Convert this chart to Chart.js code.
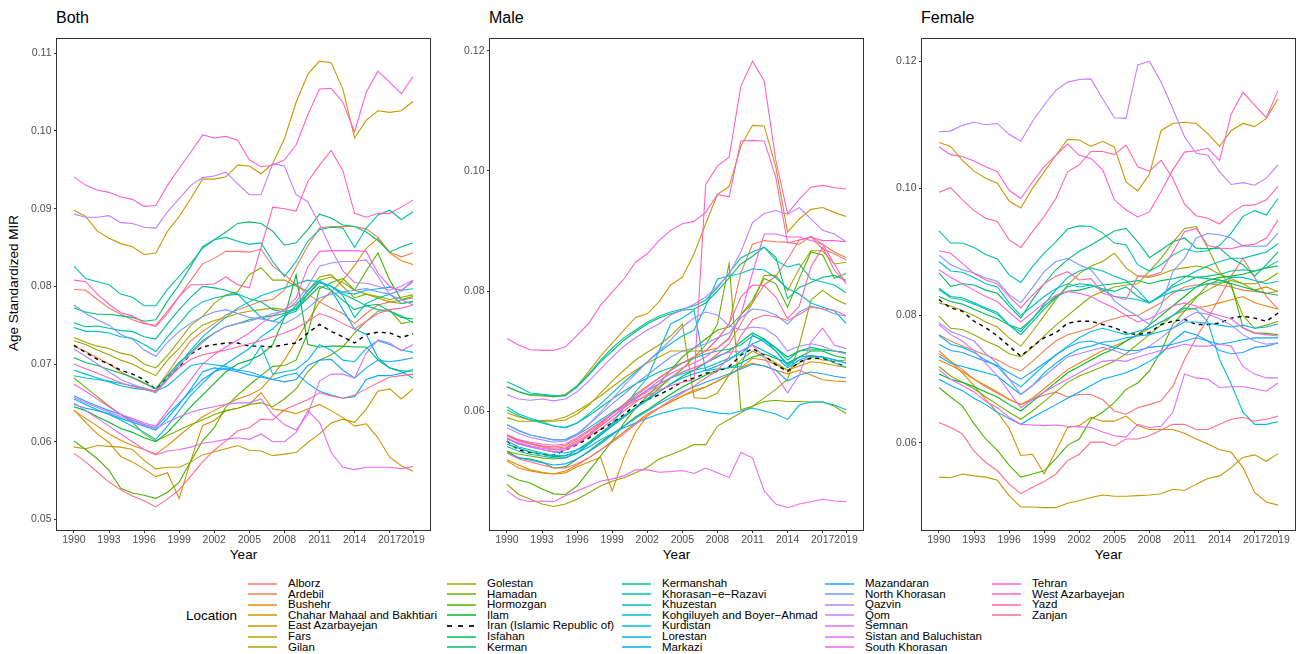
<!DOCTYPE html>
<html>
<head>
<meta charset="utf-8">
<script src="https://cdn.jsdelivr.net/npm/chart.js@4.4.1/dist/chart.umd.min.js"></script>
<style>
  body { margin: 0; background: #fff; width: 1306px; height: 654px; position: relative; overflow: hidden;
         font-family: "Liberation Sans", Arial, Helvetica, sans-serif; color: #000; }
  canvas.panel { position: absolute; top: 30px; }
  .ptitle { position: absolute; top: 9px; font-size: 16px; line-height: 18px; }
  .xlab { position: absolute; top: 547px; width: 373px; text-align: center; font-size: 13.5px; line-height: 16px; }
  .ylab { position: absolute; left: -136px; top: 275px; width: 300px; text-align: center; font-size: 13.5px;
          line-height: 16px; transform: rotate(-90deg); }
  .lg-title { position: absolute; left: 186px; top: 607px; font-size: 13.5px; line-height: 17px; }
  .lg-key { position: absolute; width: 29px; height: 2px; opacity: 0.75; }
  .lg-text { position: absolute; font-size: 11.5px; line-height: 13px; white-space: nowrap; }
</style>
</head>
<body>
<div class="ptitle" style="left:56px">Both</div>
<div class="ptitle" style="left:489px">Male</div>
<div class="ptitle" style="left:921px">Female</div>
<div class="ylab">Age Standardized MIR</div>
<div class="xlab" style="left:57px">Year</div>
<div class="xlab" style="left:490px">Year</div>
<div class="xlab" style="left:922px">Year</div>
<canvas id="bothChart" class="panel" width="428" height="530" style="left:7px"></canvas>
<canvas id="maleChart" class="panel" width="428" height="530" style="left:440px"></canvas>
<canvas id="femaleChart" class="panel" width="428" height="530" style="left:872px"></canvas>
<div class="lg-title">Location</div>
<div id="legend"></div>

<script>
// Years and tick marks
const years = [1990,1991,1992,1993,1994,1995,1996,1997,1998,1999,2000,2001,2002,2003,2004,
               2005,2006,2007,2008,2009,2010,2011,2012,2013,2014,2015,2016,2017,2018,2019];
const yearTicks = [1990, 1993, 1996, 1999, 2002, 2005, 2008, 2011, 2014, 2017, 2019];
const bothTicks = [0.05, 0.06, 0.07, 0.08, 0.09, 0.10, 0.11];
const maleTicks = [0.06, 0.08, 0.10, 0.12];
const femaleTicks = [0.06, 0.08, 0.10, 0.12];

// Locations in legend order (Iran is the national line)
const locations = [
    'Alborz', 'Ardebil', 'Bushehr', 'Chahar Mahaal and Bakhtiari', 'East Azarbayejan', 'Fars', 'Gilan',
    'Golestan', 'Hamadan', 'Hormozgan', 'Ilam', 'Iran (Islamic Republic of)', 'Isfahan', 'Kerman',
    'Kermanshah', 'Khorasan\u2212e\u2212Razavi', 'Khuzestan', 'Kohgiluyeh and Boyer\u2212Ahmad', 'Kurdistan',
    'Lorestan', 'Markazi', 'Mazandaran', 'North Khorasan', 'Qazvin', 'Qom', 'Semnan',
    'Sistan and Baluchistan', 'South Khorasan', 'Tehran', 'West Azarbayejan', 'Yazd', 'Zanjan'
];
const nationalName = 'Iran (Islamic Republic of)';

// Both sexes, one row per location (same order as locations)
const bothRates = [
    [0.0796,0.0795,0.0783,0.0772,0.0764,0.0757,0.0752,0.0750,0.0768,0.0787, 0.0808,0.0829,0.0836,0.0845,0.0845,0.0844,0.0848,0.0826,0.0815,0.0802, 0.0790,0.0780,0.0772,0.0765,0.0752,0.0765,0.0776,0.0780,0.0782,0.0785], // Alborz
    [0.0723,0.0716,0.0708,0.0700,0.0690,0.0682,0.0675,0.0668,0.0688,0.0710, 0.0730,0.0742,0.0752,0.0763,0.0770,0.0775,0.0781,0.0783,0.0795,0.0825, 0.0852,0.0875,0.0877,0.0877,0.0877,0.0874,0.0863,0.0844,0.0838,0.0843], // Ardebil
    [0.0640,0.0630,0.0620,0.0610,0.0602,0.0595,0.0590,0.0584,0.0595,0.0608, 0.0620,0.0632,0.0640,0.0648,0.0655,0.0660,0.0668,0.0685,0.0705,0.0730, 0.0755,0.0780,0.0793,0.0808,0.0827,0.0849,0.0862,0.0843,0.0833,0.0828], // Bushehr
    [0.0641,0.0625,0.0610,0.0599,0.0581,0.0574,0.0565,0.0555,0.0560,0.0527, 0.0576,0.0621,0.0627,0.0640,0.0643,0.0648,0.0663,0.0642,0.0640,0.0636, 0.0642,0.0648,0.0640,0.0631,0.0620,0.0623,0.0605,0.0580,0.0569,0.0562], // Chahar Mahaal
    [0.0898,0.0890,0.0871,0.0862,0.0855,0.0851,0.0841,0.0843,0.0871,0.0890, 0.0913,0.0938,0.0938,0.0941,0.0956,0.0955,0.0945,0.0958,0.0990,0.1037, 0.1073,0.1090,0.1088,0.1054,0.0991,0.1014,0.1026,0.1024,0.1026,0.1038], // East Azarbayejan
    [0.0593,0.0591,0.0595,0.0594,0.0593,0.0590,0.0576,0.0565,0.0567,0.0567, 0.0574,0.0583,0.0587,0.0591,0.0595,0.0589,0.0588,0.0582,0.0584,0.0586, 0.0599,0.0610,0.0624,0.0629,0.0625,0.0642,0.0665,0.0668,0.0655,0.0668], // Fars
    [0.0730,0.0725,0.0718,0.0712,0.0705,0.0700,0.0692,0.0685,0.0705,0.0720, 0.0738,0.0750,0.0756,0.0760,0.0765,0.0768,0.0770,0.0772,0.0770,0.0777, 0.0790,0.0808,0.0812,0.0805,0.0795,0.0790,0.0785,0.0780,0.0778,0.0781], // Gilan
    [0.0734,0.0728,0.0723,0.0720,0.0714,0.0711,0.0700,0.0695,0.0711,0.0730, 0.0750,0.0761,0.0778,0.0789,0.0793,0.0815,0.0824,0.0808,0.0808,0.0800, 0.0794,0.0812,0.0815,0.0800,0.0785,0.0790,0.0787,0.0783,0.0786,0.0789], // Golestan
    [0.0682,0.0670,0.0658,0.0646,0.0635,0.0625,0.0610,0.0601,0.0608,0.0615, 0.0622,0.0628,0.0635,0.0640,0.0643,0.0648,0.0650,0.0645,0.0655,0.0668, 0.0690,0.0705,0.0712,0.0722,0.0740,0.0755,0.0768,0.0770,0.0752,0.0755], // Hamadan
    [0.0601,0.0590,0.0578,0.0563,0.0540,0.0534,0.0531,0.0527,0.0535,0.0548, 0.0575,0.0601,0.0618,0.0645,0.0660,0.0673,0.0685,0.0697,0.0698,0.0705, 0.0740,0.0797,0.0805,0.0810,0.0795,0.0820,0.0843,0.0808,0.0783,0.0787], // Hormozgan
    [0.0645,0.0640,0.0632,0.0625,0.0617,0.0612,0.0605,0.0600,0.0612,0.0628, 0.0645,0.0660,0.0675,0.0690,0.0700,0.0705,0.0712,0.0725,0.0760,0.0815, 0.0725,0.0722,0.0723,0.0723,0.0722,0.0722,0.0705,0.0695,0.0691,0.0691], // Ilam
    [0.0724,0.0715,0.0706,0.0700,0.0692,0.0687,0.0680,0.0667,0.0683,0.0696, 0.0713,0.0722,0.0725,0.0727,0.0727,0.0723,0.0723,0.0722,0.0725,0.0727, 0.0740,0.0751,0.0742,0.0735,0.0727,0.0738,0.0741,0.0740,0.0734,0.0739], // Iran
    [0.0708,0.0702,0.0698,0.0693,0.0688,0.0683,0.0676,0.0668,0.0685,0.0702, 0.0715,0.0730,0.0740,0.0748,0.0752,0.0757,0.0760,0.0762,0.0765,0.0770, 0.0785,0.0800,0.0795,0.0782,0.0770,0.0775,0.0777,0.0768,0.0760,0.0758], // Isfahan
    [0.0772,0.0767,0.0764,0.0764,0.0762,0.0760,0.0755,0.0757,0.0781,0.0802, 0.0826,0.0851,0.0860,0.0870,0.0881,0.0883,0.0881,0.0871,0.0853,0.0856, 0.0873,0.0893,0.0888,0.0879,0.0877,0.0870,0.0859,0.0844,0.0851,0.0856], // Kerman
    [0.0753,0.0748,0.0749,0.0746,0.0743,0.0742,0.0735,0.0732,0.0752,0.0770, 0.0786,0.0800,0.0798,0.0795,0.0790,0.0784,0.0780,0.0770,0.0767,0.0772, 0.0790,0.0805,0.0800,0.0790,0.0783,0.0775,0.0770,0.0768,0.0762,0.0753], // Kermanshah
    [0.0826,0.0810,0.0806,0.0802,0.0790,0.0786,0.0775,0.0775,0.0796,0.0813, 0.0830,0.0849,0.0860,0.0863,0.0858,0.0854,0.0856,0.0832,0.0813,0.0832, 0.0858,0.0873,0.0876,0.0875,0.0850,0.0875,0.0892,0.0898,0.0886,0.0896], // Khorasan-e-Razavi
    [0.0747,0.0742,0.0742,0.0740,0.0735,0.0733,0.0725,0.0716,0.0735,0.0752, 0.0770,0.0780,0.0785,0.0788,0.0790,0.0775,0.0760,0.0755,0.0763,0.0768, 0.0790,0.0805,0.0800,0.0788,0.0760,0.0778,0.0785,0.0790,0.0778,0.0780], // Khuzestan
    [0.0692,0.0687,0.0682,0.0677,0.0672,0.0669,0.0667,0.0665,0.0682,0.0700, 0.0718,0.0735,0.0748,0.0760,0.0772,0.0780,0.0788,0.0793,0.0798,0.0803, 0.0808,0.0806,0.0800,0.0792,0.0790,0.0795,0.0797,0.0799,0.0795,0.0797], // Kohgiluyeh
    [0.0685,0.0682,0.0680,0.0678,0.0675,0.0672,0.0669,0.0665,0.0672,0.0685, 0.0698,0.0701,0.0699,0.0697,0.0692,0.0700,0.0723,0.0687,0.0690,0.0693, 0.0705,0.0725,0.0718,0.0705,0.0703,0.0720,0.0730,0.0725,0.0718,0.0715], // Kurdistan
    [0.0655,0.0648,0.0641,0.0635,0.0628,0.0620,0.0612,0.0603,0.0620,0.0640, 0.0660,0.0675,0.0690,0.0700,0.0710,0.0720,0.0735,0.0745,0.0760,0.0775, 0.0795,0.0808,0.0795,0.0770,0.0745,0.0738,0.0708,0.0695,0.0690,0.0682], // Lorestan
    [0.0648,0.0643,0.0640,0.0636,0.0630,0.0625,0.0620,0.0615,0.0630,0.0648, 0.0668,0.0690,0.0695,0.0693,0.0690,0.0686,0.0683,0.0680,0.0685,0.0688, 0.0675,0.0665,0.0660,0.0656,0.0658,0.0680,0.0685,0.0685,0.0688,0.0693], // Markazi
    [0.0659,0.0652,0.0646,0.0640,0.0635,0.0628,0.0622,0.0618,0.0635,0.0650, 0.0665,0.0680,0.0690,0.0695,0.0692,0.0690,0.0685,0.0680,0.0677,0.0680, 0.0698,0.0705,0.0706,0.0692,0.0682,0.0695,0.0705,0.0703,0.0705,0.0708], // Mazandaran
    [0.0776,0.0765,0.0757,0.0750,0.0738,0.0732,0.0718,0.0710,0.0728,0.0742, 0.0753,0.0761,0.0767,0.0770,0.0765,0.0760,0.0758,0.0755,0.0752,0.0760, 0.0772,0.0785,0.0790,0.0793,0.0795,0.0797,0.0793,0.0790,0.0795,0.0806], // North Khorasan
    [0.0719,0.0710,0.0700,0.0690,0.0680,0.0674,0.0668,0.0663,0.0680,0.0698, 0.0713,0.0728,0.0740,0.0748,0.0752,0.0755,0.0760,0.0765,0.0768,0.0780, 0.0800,0.0826,0.0830,0.0832,0.0832,0.0834,0.0813,0.0789,0.0783,0.0776], // Qazvin
    [0.0893,0.0889,0.0889,0.0891,0.0882,0.0881,0.0876,0.0875,0.0896,0.0913, 0.0930,0.0940,0.0942,0.0947,0.0932,0.0918,0.0918,0.0958,0.0955,0.0918, 0.0909,0.0880,0.0848,0.0820,0.0805,0.0804,0.0800,0.0795,0.0800,0.0808], // Qom
    [0.0657,0.0650,0.0644,0.0638,0.0632,0.0627,0.0621,0.0617,0.0625,0.0632, 0.0638,0.0642,0.0645,0.0648,0.0650,0.0650,0.0655,0.0635,0.0622,0.0615, 0.0635,0.0678,0.0687,0.0687,0.0682,0.0714,0.0731,0.0727,0.0717,0.0725], // Semnan
    [0.0650,0.0640,0.0630,0.0620,0.0610,0.0600,0.0590,0.0583,0.0588,0.0590, 0.0593,0.0598,0.0600,0.0603,0.0605,0.0603,0.0610,0.0600,0.0600,0.0612, 0.0640,0.0625,0.0586,0.0567,0.0564,0.0567,0.0567,0.0567,0.0565,0.0568], // Sistan and Baluchistan
    [0.0674,0.0665,0.0655,0.0645,0.0635,0.0630,0.0624,0.0620,0.0640,0.0660, 0.0680,0.0700,0.0712,0.0722,0.0731,0.0740,0.0752,0.0762,0.0770,0.0785, 0.0825,0.0845,0.0846,0.0846,0.0846,0.0845,0.0817,0.0800,0.0794,0.0808], // South Khorasan
    [0.0941,0.0930,0.0924,0.0921,0.0915,0.0912,0.0903,0.0904,0.0930,0.0952, 0.0973,0.0995,0.0991,0.0993,0.0988,0.0963,0.0954,0.0956,0.0963,0.0982, 0.1021,0.1054,0.1055,0.1037,0.0999,0.1050,0.1077,0.1063,0.1048,0.1070], // Tehran
    [0.0808,0.0806,0.0790,0.0777,0.0766,0.0762,0.0753,0.0748,0.0765,0.0787, 0.0802,0.0802,0.0803,0.0812,0.0802,0.0798,0.0850,0.0902,0.0900,0.0897, 0.0935,0.0956,0.0975,0.0949,0.0894,0.0889,0.0894,0.0894,0.0902,0.0911], // West Azarbayejan
    [0.0700,0.0694,0.0688,0.0682,0.0676,0.0671,0.0668,0.0665,0.0680,0.0695, 0.0706,0.0712,0.0715,0.0718,0.0722,0.0726,0.0730,0.0735,0.0740,0.0746, 0.0755,0.0765,0.0760,0.0752,0.0745,0.0755,0.0765,0.0770,0.0772,0.0776], // Yazd
    [0.0585,0.0574,0.0561,0.0548,0.0538,0.0530,0.0524,0.0516,0.0526,0.0538, 0.0556,0.0574,0.0589,0.0601,0.0614,0.0618,0.0629,0.0628,0.0641,0.0648, 0.0654,0.0663,0.0659,0.0656,0.0660,0.0668,0.0676,0.0683,0.0685,0.0687]  // Zanjan
];

// Male
const maleRates = [
    [0.0559,0.0550,0.0545,0.0540,0.0536,0.0538,0.0547,0.0558,0.0570,0.0585, 0.0600,0.0615,0.0628,0.0640,0.0655,0.0665,0.0672,0.0680,0.0695,0.0712, 0.0745,0.0780,0.0810,0.0825,0.0853,0.0885,0.0890,0.0870,0.0862,0.0852], // Alborz
    [0.0561,0.0552,0.0546,0.0541,0.0538,0.0540,0.0550,0.0562,0.0578,0.0595, 0.0612,0.0628,0.0642,0.0655,0.0668,0.0680,0.0690,0.0700,0.0720,0.0745, 0.0830,0.0878,0.0884,0.0882,0.0881,0.0878,0.0891,0.0878,0.0865,0.0856], // Ardebil
    [0.0517,0.0505,0.0500,0.0497,0.0495,0.0500,0.0510,0.0522,0.0535,0.0550, 0.0565,0.0580,0.0595,0.0605,0.0615,0.0625,0.0635,0.0640,0.0650,0.0660, 0.0672,0.0680,0.0675,0.0668,0.0662,0.0668,0.0660,0.0652,0.0650,0.0649], // Bushehr
    [0.0519,0.0510,0.0502,0.0498,0.0495,0.0497,0.0507,0.0515,0.0523,0.0467, 0.0522,0.0565,0.0592,0.0605,0.0615,0.0625,0.0632,0.0640,0.0650,0.0660, 0.0672,0.0688,0.0685,0.0678,0.0668,0.0675,0.0682,0.0680,0.0676,0.0673], // Chahar Mahaal
    [0.0640,0.0632,0.0626,0.0625,0.0624,0.0628,0.0642,0.0666,0.0691,0.0713, 0.0735,0.0756,0.0762,0.0782,0.0810,0.0823,0.0862,0.0912,0.0961,0.0974, 0.1041,0.1076,0.1075,0.1006,0.0898,0.0920,0.0936,0.0939,0.0931,0.0924], // East Azarbayejan
    [0.0597,0.0590,0.0585,0.0584,0.0585,0.0590,0.0600,0.0612,0.0625,0.0640, 0.0655,0.0668,0.0680,0.0690,0.0700,0.0700,0.0700,0.0700,0.0705,0.0722, 0.0760,0.0780,0.0826,0.0826,0.0801,0.0837,0.0867,0.0867,0.0845,0.0848], // Fars
    [0.0589,0.0583,0.0583,0.0583,0.0583,0.0585,0.0595,0.0610,0.0630,0.0650, 0.0668,0.0685,0.0698,0.0710,0.0725,0.0745,0.0622,0.0621,0.0630,0.0660, 0.0685,0.0700,0.0690,0.0680,0.0668,0.0680,0.0690,0.0685,0.0683,0.0685], // Gilan
    [0.0478,0.0461,0.0453,0.0445,0.0441,0.0445,0.0453,0.0464,0.0475,0.0483, 0.0489,0.0497,0.0506,0.0520,0.0527,0.0535,0.0544,0.0544,0.0575,0.0586, 0.0597,0.0608,0.0622,0.0636,0.0653,0.0710,0.0785,0.0801,0.0787,0.0778], // Golestan
    [0.0533,0.0528,0.0525,0.0522,0.0520,0.0522,0.0530,0.0545,0.0560,0.0575, 0.0590,0.0605,0.0620,0.0638,0.0655,0.0670,0.0690,0.0710,0.0745,0.0846, 0.0602,0.0608,0.0616,0.0618,0.0616,0.0616,0.0615,0.0615,0.0608,0.0596], // Hamadan
    [0.0494,0.0485,0.0480,0.0470,0.0462,0.0461,0.0475,0.0500,0.0525,0.0550, 0.0580,0.0605,0.0625,0.0645,0.0668,0.0690,0.0705,0.0720,0.0735,0.0740, 0.0760,0.0785,0.0821,0.0812,0.0773,0.0821,0.0865,0.0860,0.0821,0.0829], // Hormozgan
    [0.0533,0.0522,0.0520,0.0515,0.0505,0.0507,0.0520,0.0533,0.0548,0.0562, 0.0575,0.0590,0.0602,0.0615,0.0628,0.0640,0.0650,0.0660,0.0668,0.0672, 0.0680,0.0690,0.0695,0.0688,0.0680,0.0690,0.0700,0.0700,0.0692,0.0688], // Ilam
    [0.0550,0.0535,0.0531,0.0528,0.0526,0.0535,0.0544,0.0555,0.0569,0.0580, 0.0594,0.0610,0.0619,0.0627,0.0637,0.0649,0.0655,0.0663,0.0666,0.0674, 0.0693,0.0704,0.0693,0.0677,0.0666,0.0682,0.0688,0.0688,0.0681,0.0674], // Iran
    [0.0545,0.0538,0.0532,0.0528,0.0524,0.0525,0.0535,0.0548,0.0563,0.0578, 0.0592,0.0605,0.0618,0.0632,0.0645,0.0658,0.0668,0.0680,0.0690,0.0700, 0.0715,0.0730,0.0720,0.0705,0.0690,0.0700,0.0706,0.0702,0.0700,0.0697], // Isfahan
    [0.0641,0.0632,0.0627,0.0627,0.0624,0.0626,0.0640,0.0660,0.0682,0.0700, 0.0718,0.0732,0.0745,0.0755,0.0762,0.0768,0.0770,0.0780,0.0800,0.0822, 0.0845,0.0858,0.0873,0.0856,0.0787,0.0806,0.0814,0.0823,0.0826,0.0818], // Kerman
    [0.0602,0.0592,0.0585,0.0580,0.0575,0.0573,0.0580,0.0592,0.0606,0.0620, 0.0633,0.0645,0.0655,0.0665,0.0672,0.0680,0.0688,0.0695,0.0700,0.0703, 0.0710,0.0725,0.0718,0.0705,0.0685,0.0700,0.0702,0.0702,0.0700,0.0697], // Kermanshah
    [0.0649,0.0640,0.0630,0.0628,0.0626,0.0625,0.0642,0.0662,0.0685,0.0705, 0.0722,0.0735,0.0748,0.0758,0.0765,0.0770,0.0775,0.0785,0.0805,0.0830, 0.0855,0.0865,0.0873,0.0851,0.0840,0.0845,0.0820,0.0815,0.0810,0.0797], // Khorasan-e-Razavi
    [0.0577,0.0567,0.0560,0.0556,0.0552,0.0552,0.0560,0.0572,0.0585,0.0598, 0.0610,0.0622,0.0635,0.0645,0.0655,0.0662,0.0668,0.0672,0.0680,0.0688, 0.0695,0.0712,0.0720,0.0700,0.0675,0.0690,0.0692,0.0690,0.0680,0.0673], // Khuzestan
    [0.0607,0.0595,0.0588,0.0582,0.0575,0.0572,0.0580,0.0595,0.0612,0.0630, 0.0648,0.0665,0.0682,0.0698,0.0712,0.0725,0.0735,0.0775,0.0820,0.0825, 0.0829,0.0837,0.0835,0.0822,0.0804,0.0795,0.0780,0.0773,0.0767,0.0746], // Kohgiluyeh
    [0.0541,0.0533,0.0528,0.0525,0.0522,0.0522,0.0530,0.0545,0.0560,0.0580, 0.0605,0.0632,0.0655,0.0700,0.0745,0.0755,0.0768,0.0667,0.0670,0.0672, 0.0674,0.0727,0.0715,0.0700,0.0678,0.0690,0.0692,0.0690,0.0686,0.0680], // Kurdistan
    [0.0550,0.0540,0.0535,0.0530,0.0526,0.0526,0.0530,0.0540,0.0552,0.0562, 0.0572,0.0580,0.0588,0.0595,0.0600,0.0605,0.0605,0.0600,0.0597,0.0595, 0.0600,0.0605,0.0600,0.0595,0.0586,0.0610,0.0615,0.0615,0.0610,0.0602], // Lorestan
    [0.0555,0.0545,0.0540,0.0536,0.0532,0.0530,0.0535,0.0545,0.0560,0.0575, 0.0590,0.0605,0.0620,0.0632,0.0645,0.0655,0.0662,0.0668,0.0675,0.0685, 0.0700,0.0710,0.0700,0.0690,0.0672,0.0685,0.0692,0.0690,0.0685,0.0680], // Markazi
    [0.0530,0.0522,0.0518,0.0514,0.0510,0.0512,0.0520,0.0532,0.0545,0.0560, 0.0575,0.0588,0.0600,0.0612,0.0622,0.0632,0.0640,0.0648,0.0655,0.0662, 0.0670,0.0678,0.0675,0.0668,0.0650,0.0660,0.0665,0.0662,0.0658,0.0655], // Mazandaran
    [0.0577,0.0568,0.0560,0.0556,0.0552,0.0553,0.0562,0.0578,0.0595,0.0612, 0.0628,0.0645,0.0660,0.0675,0.0690,0.0700,0.0705,0.0712,0.0722,0.0730, 0.0755,0.0770,0.0768,0.0760,0.0745,0.0765,0.0775,0.0770,0.0762,0.0758], // North Khorasan
    [0.0572,0.0563,0.0556,0.0552,0.0548,0.0550,0.0560,0.0578,0.0598,0.0620, 0.0642,0.0662,0.0682,0.0700,0.0718,0.0740,0.0755,0.0765,0.0760,0.0742, 0.0735,0.0740,0.0738,0.0725,0.0700,0.0708,0.0712,0.0708,0.0700,0.0695], // Qazvin
    [0.0627,0.0620,0.0618,0.0620,0.0617,0.0620,0.0632,0.0650,0.0670,0.0690, 0.0708,0.0722,0.0735,0.0745,0.0760,0.0768,0.0778,0.0790,0.0808,0.0828, 0.0865,0.0914,0.0929,0.0934,0.0928,0.0939,0.0920,0.0901,0.0895,0.0882], // Qom
    [0.0554,0.0547,0.0542,0.0538,0.0535,0.0537,0.0547,0.0560,0.0575,0.0590, 0.0605,0.0620,0.0632,0.0645,0.0656,0.0665,0.0672,0.0680,0.0692,0.0698, 0.0700,0.0710,0.0690,0.0660,0.0630,0.0660,0.0715,0.0738,0.0710,0.0704], // Semnan
    [0.0467,0.0453,0.0449,0.0450,0.0449,0.0459,0.0467,0.0475,0.0483,0.0487, 0.0492,0.0502,0.0502,0.0498,0.0499,0.0501,0.0496,0.0505,0.0497,0.0489, 0.0531,0.0522,0.0467,0.0445,0.0439,0.0445,0.0449,0.0453,0.0450,0.0449], // Sistan and Baluchistan
    [0.0554,0.0545,0.0540,0.0536,0.0532,0.0535,0.0545,0.0560,0.0575,0.0590, 0.0605,0.0620,0.0635,0.0650,0.0662,0.0672,0.0680,0.0690,0.0705,0.0720, 0.0760,0.0830,0.0895,0.0895,0.0890,0.0890,0.0884,0.0878,0.0845,0.0812], // South Khorasan
    [0.0721,0.0710,0.0702,0.0701,0.0701,0.0707,0.0726,0.0746,0.0776,0.0798, 0.0820,0.0848,0.0862,0.0884,0.0901,0.0912,0.0916,0.0931,0.0961,0.0957, 0.1050,0.1051,0.1050,0.0989,0.0880,0.0885,0.0890,0.0884,0.0884,0.0882], // Tehran
    [0.0559,0.0552,0.0548,0.0545,0.0543,0.0545,0.0556,0.0568,0.0582,0.0595, 0.0607,0.0617,0.0625,0.0635,0.0642,0.0648,0.0652,0.0978,0.1008,0.1023, 0.1141,0.1183,0.1150,0.1017,0.0929,0.0953,0.0973,0.0976,0.0972,0.0970], // West Azarbayejan
    [0.0559,0.0550,0.0546,0.0542,0.0540,0.0543,0.0553,0.0566,0.0580,0.0595, 0.0610,0.0625,0.0640,0.0655,0.0668,0.0680,0.0690,0.0700,0.0720,0.0745, 0.0790,0.0810,0.0809,0.0790,0.0754,0.0775,0.0840,0.0873,0.0835,0.0813], // Yazd
    [0.0530,0.0520,0.0515,0.0510,0.0505,0.0505,0.0512,0.0522,0.0535,0.0548, 0.0562,0.0578,0.0592,0.0605,0.0618,0.0630,0.0642,0.0655,0.0668,0.0690, 0.0725,0.0752,0.0760,0.0757,0.0751,0.0761,0.0773,0.0770,0.0768,0.0759]  // Zanjan
];

// Female
const femaleRates = [
    [0.0740,0.0728,0.0715,0.0700,0.0688,0.0678,0.0668,0.0660,0.0668,0.0675, 0.0680,0.0672,0.0676,0.0676,0.0668,0.0650,0.0645,0.0655,0.0660,0.0666, 0.0689,0.0731,0.0765,0.0796,0.0828,0.0862,0.0890,0.0860,0.0830,0.0810], // Alborz
    [0.0770,0.0760,0.0752,0.0745,0.0738,0.0730,0.0720,0.0713,0.0728,0.0745, 0.0760,0.0770,0.0775,0.0780,0.0790,0.0795,0.0800,0.0800,0.0810,0.0820, 0.0835,0.0845,0.0848,0.0850,0.0848,0.0845,0.0840,0.0838,0.0835,0.0838], // Ardebil
    [0.0730,0.0722,0.0712,0.0700,0.0690,0.0680,0.0668,0.0660,0.0670,0.0685, 0.0700,0.0715,0.0725,0.0735,0.0745,0.0752,0.0760,0.0770,0.0780,0.0790, 0.0800,0.0808,0.0812,0.0815,0.0820,0.0825,0.0830,0.0820,0.0815,0.0810], // Bushehr
    [0.0745,0.0728,0.0710,0.0690,0.0668,0.0648,0.0623,0.0580,0.0582,0.0551, 0.0587,0.0624,0.0627,0.0640,0.0634,0.0634,0.0642,0.0627,0.0621,0.0621, 0.0621,0.0615,0.0606,0.0598,0.0589,0.0585,0.0561,0.0522,0.0507,0.0502], // Chahar Mahaal
    [0.1072,0.1066,0.1044,0.1027,0.1016,0.1008,0.0980,0.0969,0.1000,0.1026, 0.1052,0.1077,0.1076,0.1066,0.1074,0.1065,0.1010,0.0996,0.1022,0.1091, 0.1102,0.1104,0.1102,0.1086,0.1066,0.1091,0.1102,0.1097,0.1110,0.1141], // East Azarbayejan
    [0.0546,0.0545,0.0551,0.0548,0.0546,0.0541,0.0517,0.0499,0.0499,0.0498, 0.0498,0.0505,0.0509,0.0514,0.0518,0.0516,0.0516,0.0517,0.0518,0.0520, 0.0527,0.0525,0.0535,0.0544,0.0548,0.0561,0.0577,0.0581,0.0571,0.0583], // Fars
    [0.0820,0.0815,0.0808,0.0800,0.0790,0.0782,0.0765,0.0752,0.0775,0.0800, 0.0825,0.0848,0.0866,0.0878,0.0885,0.0898,0.0875,0.0862,0.0860,0.0865, 0.0872,0.0875,0.0878,0.0875,0.0865,0.0858,0.0850,0.0840,0.0845,0.0838], // Gilan
    [0.0799,0.0780,0.0778,0.0770,0.0760,0.0752,0.0740,0.0735,0.0750,0.0768, 0.0785,0.0800,0.0815,0.0830,0.0838,0.0845,0.0848,0.0850,0.0870,0.0890, 0.0915,0.0937,0.0940,0.0906,0.0869,0.0845,0.0800,0.0780,0.0785,0.0791], // Golestan
    [0.0720,0.0705,0.0695,0.0685,0.0672,0.0660,0.0648,0.0637,0.0650,0.0665, 0.0680,0.0695,0.0705,0.0712,0.0720,0.0728,0.0740,0.0755,0.0770,0.0785, 0.0800,0.0815,0.0830,0.0840,0.0850,0.0855,0.0850,0.0850,0.0855,0.0867], // Hamadan
    [0.0687,0.0672,0.0658,0.0630,0.0606,0.0588,0.0565,0.0546,0.0551,0.0556, 0.0575,0.0596,0.0606,0.0637,0.0648,0.0663,0.0684,0.0694,0.0713,0.0744, 0.0786,0.0807,0.0828,0.0849,0.0856,0.0850,0.0781,0.0773,0.0772,0.0770], // Hormozgan
    [0.0708,0.0700,0.0695,0.0688,0.0680,0.0672,0.0660,0.0650,0.0665,0.0680, 0.0695,0.0710,0.0720,0.0730,0.0740,0.0748,0.0760,0.0770,0.0785,0.0800, 0.0815,0.0830,0.0845,0.0855,0.0860,0.0862,0.0865,0.0870,0.0875,0.0878], // Ilam
    [0.0825,0.0812,0.0807,0.0791,0.0781,0.0768,0.0752,0.0736,0.0752,0.0765, 0.0773,0.0788,0.0791,0.0791,0.0786,0.0781,0.0773,0.0770,0.0773,0.0786, 0.0791,0.0794,0.0786,0.0786,0.0788,0.0796,0.0799,0.0796,0.0791,0.0804], // Iran
    [0.0830,0.0822,0.0818,0.0810,0.0802,0.0795,0.0785,0.0779,0.0795,0.0815, 0.0830,0.0838,0.0840,0.0845,0.0848,0.0850,0.0852,0.0855,0.0850,0.0855, 0.0858,0.0862,0.0860,0.0858,0.0856,0.0850,0.0845,0.0840,0.0835,0.0832], // Isfahan
    [0.0867,0.0846,0.0850,0.0848,0.0840,0.0835,0.0815,0.0796,0.0825,0.0850, 0.0872,0.0888,0.0901,0.0911,0.0922,0.0933,0.0937,0.0916,0.0891,0.0903, 0.0916,0.0922,0.0906,0.0905,0.0906,0.0890,0.0880,0.0862,0.0880,0.0900], // Kerman
    [0.0843,0.0830,0.0828,0.0820,0.0812,0.0805,0.0785,0.0770,0.0790,0.0810, 0.0828,0.0845,0.0850,0.0848,0.0842,0.0838,0.0845,0.0830,0.0820,0.0832, 0.0845,0.0852,0.0860,0.0862,0.0865,0.0870,0.0872,0.0870,0.0875,0.0886], // Kermanshah
    [0.0933,0.0914,0.0914,0.0907,0.0896,0.0889,0.0864,0.0852,0.0877,0.0898, 0.0916,0.0936,0.0941,0.0940,0.0930,0.0914,0.0911,0.0880,0.0870,0.0880, 0.0895,0.0905,0.0900,0.0902,0.0910,0.0930,0.0956,0.0965,0.0958,0.0984], // Khorasan-e-Razavi
    [0.0841,0.0828,0.0825,0.0818,0.0810,0.0802,0.0785,0.0775,0.0795,0.0818, 0.0840,0.0860,0.0870,0.0875,0.0870,0.0862,0.0855,0.0840,0.0820,0.0832, 0.0848,0.0860,0.0870,0.0878,0.0885,0.0890,0.0890,0.0895,0.0900,0.0913], // Khuzestan
    [0.0885,0.0870,0.0868,0.0860,0.0850,0.0845,0.0820,0.0800,0.0815,0.0830, 0.0842,0.0850,0.0845,0.0848,0.0840,0.0830,0.0828,0.0825,0.0820,0.0830, 0.0838,0.0840,0.0845,0.0850,0.0852,0.0860,0.0860,0.0855,0.0850,0.0854], // Kohgiluyeh
    [0.0769,0.0755,0.0750,0.0742,0.0730,0.0720,0.0700,0.0688,0.0705,0.0722, 0.0738,0.0752,0.0765,0.0775,0.0780,0.0775,0.0770,0.0775,0.0780,0.0790, 0.0800,0.0812,0.0810,0.0790,0.0731,0.0692,0.0648,0.0629,0.0629,0.0633], // Kurdistan
    [0.0736,0.0725,0.0720,0.0715,0.0710,0.0705,0.0690,0.0676,0.0690,0.0710, 0.0725,0.0738,0.0748,0.0752,0.0758,0.0760,0.0765,0.0768,0.0770,0.0775, 0.0780,0.0790,0.0790,0.0788,0.0785,0.0782,0.0785,0.0780,0.0782,0.0787], // Lorestan
    [0.0700,0.0690,0.0682,0.0670,0.0660,0.0648,0.0638,0.0629,0.0640,0.0650, 0.0660,0.0670,0.0680,0.0690,0.0700,0.0705,0.0710,0.0718,0.0728,0.0740, 0.0760,0.0775,0.0770,0.0760,0.0755,0.0758,0.0762,0.0765,0.0765,0.0765], // Markazi
    [0.0755,0.0745,0.0742,0.0735,0.0728,0.0722,0.0710,0.0700,0.0712,0.0725, 0.0738,0.0750,0.0758,0.0760,0.0755,0.0750,0.0745,0.0745,0.0750,0.0752, 0.0755,0.0760,0.0765,0.0760,0.0745,0.0740,0.0742,0.0750,0.0752,0.0757], // Mazandaran
    [0.0895,0.0880,0.0872,0.0867,0.0859,0.0854,0.0833,0.0820,0.0844,0.0869, 0.0885,0.0890,0.0880,0.0872,0.0849,0.0823,0.0810,0.0799,0.0786,0.0815, 0.0869,0.0890,0.0922,0.0929,0.0927,0.0922,0.0909,0.0909,0.0909,0.0930], // North Khorasan
    [0.0789,0.0775,0.0768,0.0760,0.0740,0.0725,0.0700,0.0676,0.0690,0.0705, 0.0720,0.0735,0.0740,0.0745,0.0750,0.0745,0.0738,0.0742,0.0752,0.0765, 0.0780,0.0795,0.0805,0.0802,0.0795,0.0785,0.0770,0.0760,0.0755,0.0757], // Qazvin
    [0.1089,0.1090,0.1099,0.1104,0.1100,0.1102,0.1085,0.1074,0.1105,0.1131, 0.1154,0.1167,0.1171,0.1172,0.1141,0.1111,0.1110,0.1194,0.1200,0.1167, 0.1125,0.1081,0.1055,0.1052,0.1026,0.1006,0.1009,0.1005,0.1016,0.1037], // Qom
    [0.0786,0.0770,0.0760,0.0745,0.0725,0.0705,0.0680,0.0655,0.0668,0.0680, 0.0690,0.0700,0.0710,0.0720,0.0728,0.0730,0.0728,0.0735,0.0740,0.0745, 0.0750,0.0755,0.0752,0.0752,0.0755,0.0752,0.0720,0.0708,0.0702,0.0702], // Semnan
    [0.0715,0.0700,0.0690,0.0680,0.0665,0.0655,0.0640,0.0629,0.0628,0.0627, 0.0628,0.0626,0.0625,0.0624,0.0617,0.0611,0.0609,0.0629,0.0624,0.0626, 0.0648,0.0708,0.0702,0.0700,0.0687,0.0688,0.0688,0.0685,0.0681,0.0694], // Sistan and Baluchistan
    [0.0872,0.0860,0.0850,0.0840,0.0830,0.0822,0.0805,0.0790,0.0805,0.0820, 0.0832,0.0838,0.0835,0.0830,0.0820,0.0812,0.0800,0.0790,0.0795,0.0805, 0.0815,0.0820,0.0815,0.0805,0.0800,0.0795,0.0780,0.0772,0.0770,0.0768], // South Khorasan
    [0.1065,0.1053,0.1050,0.1043,0.1034,0.1026,0.0997,0.0984,0.1010,0.1034, 0.1052,0.1070,0.1052,0.1047,0.1029,0.0982,0.0966,0.0955,0.0963,0.0995, 0.1029,0.1057,0.1059,0.1063,0.1044,0.1117,0.1151,0.1131,0.1111,0.1154], // Tehran
    [0.0902,0.0898,0.0882,0.0866,0.0856,0.0850,0.0830,0.0812,0.0832,0.0850, 0.0862,0.0869,0.0856,0.0858,0.0835,0.0830,0.0825,0.0862,0.0862,0.0868, 0.0900,0.0932,0.0937,0.0910,0.0906,0.0905,0.0910,0.0912,0.0922,0.0950], // West Azarbayejan
    [0.0994,0.1001,0.0982,0.0965,0.0953,0.0948,0.0919,0.0907,0.0932,0.0956, 0.0984,0.1026,0.1037,0.1058,0.1058,0.1053,0.1068,0.1034,0.1027,0.1044, 0.1016,0.0975,0.0957,0.0953,0.0944,0.0961,0.0973,0.0974,0.0982,0.1003], // Yazd
    [0.0632,0.0624,0.0614,0.0587,0.0569,0.0556,0.0535,0.0520,0.0530,0.0539, 0.0551,0.0572,0.0582,0.0601,0.0601,0.0595,0.0606,0.0606,0.0611,0.0620, 0.0629,0.0629,0.0621,0.0621,0.0629,0.0637,0.0640,0.0634,0.0637,0.0642]  // Zanjan
];

// ggplot-style hue palette (HCL, l = 65, c = 100)
function hclColor(h, c, l) {
    const hr = h * Math.PI / 180;
    const U = c * Math.cos(hr), V = c * Math.sin(hr);
    const Xn = 95.047, Yn = 100.0, Zn = 108.883;
    const den = Xn + 15 * Yn + 3 * Zn;
    const un = 4 * Xn / den, vn = 9 * Yn / den;
    const Y = Yn * Math.pow((l + 16) / 116, 3);
    const u = U / (13 * l) + un, v = V / (13 * l) + vn;
    const X = Y * 9 * u / (4 * v);
    const Z = Y * (12 - 3 * u - 20 * v) / (4 * v);
    const x = X / 100, y = Y / 100, z = Z / 100;
    const lin = [
        3.240479 * x - 1.537150 * y - 0.498535 * z,
        -0.969256 * x + 1.875992 * y + 0.041556 * z,
        0.055648 * x - 0.204043 * y + 1.057311 * z
    ];
    const rgb = lin.map(t => {
        const g = t <= 0.0031308 ? 12.92 * t : 1.055 * Math.pow(t, 1 / 2.4) - 0.055;
        return Math.round(Math.min(1, Math.max(0, g)) * 255);
    });
    return `rgb(${rgb[0]},${rgb[1]},${rgb[2]})`;
}

const provinceCount = locations.length - 1;
const lineColors = [];
let k = 0;
locations.forEach(name => {
    if (name === nationalName) {
        lineColors.push('#000000');
    } else {
        lineColors.push(hclColor(15 + 360 * k / provinceCount, 100, 65));
        k++;
    }
});

// Panel border drawn over the lines like ggplot's panel.border
const panelBorder = {
    id: 'panelBorder',
    afterDatasetsDraw(chart) {
        const { ctx, chartArea: a } = chart;
        ctx.save();
        ctx.strokeStyle = '#333333';
        ctx.lineWidth = 1;
        ctx.strokeRect(Math.round(a.left) - 0.5, Math.round(a.top) - 0.5,
                       Math.round(a.right - a.left) + 1, Math.round(a.bottom - a.top) + 1);
        ctx.restore();
    }
};

const tickFont = { family: "'Liberation Sans', Arial, sans-serif", size: 10.5 };

function makePanel(canvasId, rates, yMin, yMax, yTicks) {
    const datasets = rates.map((row, i) => {
        const isNational = locations[i] === nationalName;
        return {
            label: locations[i],
            data: row,
            borderColor: lineColors[i],
            borderWidth: isNational ? 1.4 : 1.1,
            borderDash: isNational ? [4, 4] : [],
            pointRadius: 0,
            tension: 0,
            fill: false,
            order: rates.length - i
        };
    });

    return new Chart(document.getElementById(canvasId).getContext('2d'), {
        type: 'line',
        data: { labels: years, datasets: datasets },
        options: {
            responsive: false,
            maintainAspectRatio: false,
            animation: false,
            layout: { padding: { top: 7, right: 5, left: 0, bottom: 0 } },
            plugins: { legend: { display: false }, tooltip: { enabled: false } },
            scales: {
                x: {
                    type: 'linear',
                    min: 1988.55,
                    max: 2020.45,
                    afterBuildTicks: axis => { axis.ticks = yearTicks.map(v => ({ value: v })); },
                    afterFit: axis => { axis.height = 30; },
                    ticks: {
                        autoSkip: false, maxRotation: 0, minRotation: 0, padding: 1,
                        color: '#4D4D4D', font: tickFont,
                        callback: v => String(v)
                    },
                    grid: { drawOnChartArea: false, drawTicks: true, tickLength: 3, color: '#333333' },
                    border: { display: false }
                },
                y: {
                    type: 'linear',
                    min: yMin,
                    max: yMax,
                    afterBuildTicks: axis => { axis.ticks = yTicks.map(v => ({ value: v })); },
                    afterFit: axis => { axis.width = 50; },
                    ticks: {
                        padding: 2.5, color: '#4D4D4D', font: tickFont,
                        callback: v => v.toFixed(2)
                    },
                    grid: { drawOnChartArea: false, drawTicks: true, tickLength: 3, color: '#333333' },
                    border: { display: false }
                }
            }
        },
        plugins: [panelBorder]
    });
}

makePanel('bothChart', bothRates, 0.04863, 0.11187, bothTicks);
makePanel('maleChart', maleRates, 0.04018, 0.12202, maleTicks);
makePanel('femaleChart', femaleRates, 0.04629, 0.12351, femaleTicks);

// Legend: five columns of seven entries
const legendEl = document.getElementById('legend');
const keyX = [248, 447, 622, 825, 992];
locations.forEach((name, i) => {
    const col = Math.floor(i / 7), row = i % 7;
    const cy = 583.5 + row * 10.6;
    const key = document.createElement('div');
    key.className = 'lg-key';
    key.style.left = keyX[col] + 'px';
    key.style.top = Math.round(cy - 1) + 'px';
    if (name === nationalName) {
        key.style.background = 'repeating-linear-gradient(90deg, #000 0 5px, transparent 5px 11px)';
        key.style.opacity = '0.85';
    } else {
        key.style.background = lineColors[i];
    }
    legendEl.appendChild(key);

    const txt = document.createElement('div');
    txt.className = 'lg-text';
    txt.style.left = (keyX[col] + 40) + 'px';
    txt.style.top = Math.round(cy - 6.5) + 'px';
    txt.textContent = name;
    legendEl.appendChild(txt);
});
</script>
</body>
</html>
